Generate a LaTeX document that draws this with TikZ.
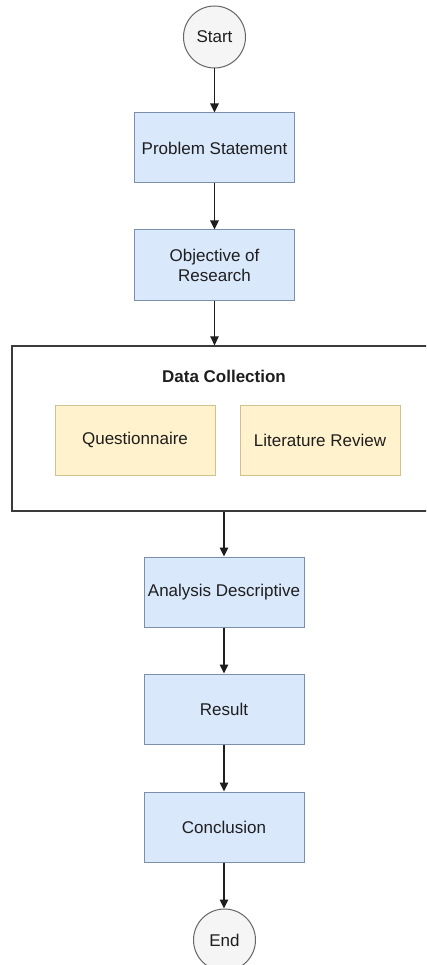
\documentclass[tikz,border=0pt]{standalone}
\usepackage{fontspec}
\setmainfont{Liberation Sans}
\usetikzlibrary{arrows.meta,positioning}

\definecolor{stepfill}{HTML}{DAE8FC}
\definecolor{stepline}{HTML}{7B8FAA}
\definecolor{srcfill}{HTML}{FFF2CC}
\definecolor{srcline}{HTML}{D2C190}
\definecolor{termfill}{HTML}{F5F5F5}
\definecolor{termline}{HTML}{666666}
\definecolor{groupline}{HTML}{3A3A3A}
\definecolor{ink}{HTML}{1E1E1E}

\tikzset{
  txt/.style={font=\fontsize{17}{20}\selectfont, text=ink, align=center},
  stepbox/.style={txt, rectangle, draw=stepline, fill=stepfill, line width=1pt,
    minimum width=160pt, minimum height=70pt, inner sep=2pt},
  srcbox/.style={txt, rectangle, draw=srcline, fill=srcfill, line width=1pt,
    minimum width=160pt, minimum height=70pt, inner sep=2pt},
  term/.style={txt, circle, draw=termline, fill=termfill, line width=1pt,
    minimum size=62pt, inner sep=0pt},
  group/.style={rectangle, draw=groupline, fill=white, line width=1.3pt,
    minimum width=424pt, minimum height=165pt},
  flow/.style={draw=ink, line width=1.2pt, -{Triangle[length=9pt,width=8.5pt]}}
}

\begin{document}
\begin{tikzpicture}[x=1pt,y=-1pt]
  \useasboundingbox (0,0) rectangle (426,965);
  \clip (0,0) rectangle (426,965);
  \fill[white] (0,0) rectangle (426,965);

  % upper chain
  \node[term] (start) at (214.5,37) {Start};
  \node[stepbox] (ps) at (214.5,148) {Problem Statement};
  \node[stepbox] (obj) at (214.5,265) {Objective of\\Research};

  % data collection group
  \node[group] (dc) at (224,428.5) {};
  \node[txt, font=\fontsize{17}{20}\selectfont\bfseries] (dctitle) at (224,376) {Data Collection};
  \node[srcbox] (q) at (135,440) {Questionnaire};
  \node[srcbox] (lit) at (320,440) {Literature Review};

  % lower chain
  \node[stepbox] (ana) at (224,592) {Analysis Descriptive};
  \node[stepbox] (res) at (224,709) {Result};
  \node[stepbox] (con) at (224,827) {Conclusion};
  \node[term] (end) at (224.5,940) {End};

  % connectors
  \draw[flow] (start) -- (ps);
  \draw[flow] (ps) -- (obj);
  \draw[flow] (obj.south) -- (obj.south |- dc.north);
  \draw[flow] (dc.south -| ana.north) -- (ana.north);
  \draw[flow] (ana) -- (res);
  \draw[flow] (res) -- (con);
  \draw[flow] (con.south) -- (end.north -| con.south);
\end{tikzpicture}
\end{document}
